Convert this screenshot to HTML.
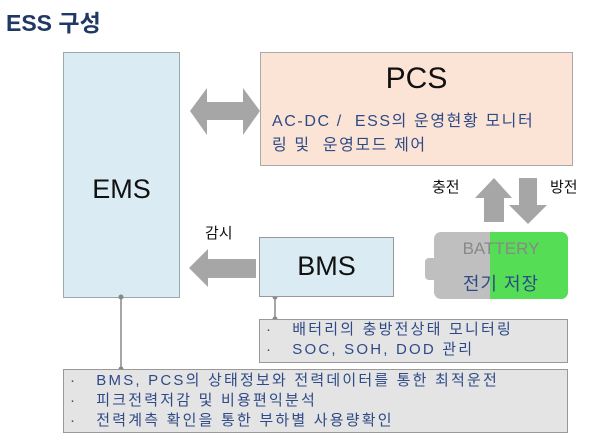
<!DOCTYPE html>
<html><head><meta charset="utf-8"><style>
body{margin:0;width:600px;height:436px;background:#fff;position:relative;overflow:hidden;font-family:"Liberation Sans","Noto Sans CJK KR",sans-serif}
.a{position:absolute;box-sizing:border-box}
.t{position:absolute;white-space:nowrap}
.note{color:#2e4a86;font-size:15px;line-height:20px;letter-spacing:2.2px}
</style></head><body>
<div class="t" style="left:6px;top:4px;font-size:23px;font-weight:bold;color:#1f3864">ESS 구성</div>
<div class="a" style="left:63px;top:52px;width:117px;height:246px;background:#daebf3;border:1px solid #9aa"></div>
<div class="t" style="left:63px;width:117px;text-align:center;top:174px;font-size:27px;color:#111">EMS</div>
<div class="a" style="left:260px;top:52px;width:313px;height:114px;background:#fbe4d5;border:1px solid #aaa"></div>
<div class="t" style="left:260px;width:313px;text-align:center;top:62px;font-size:30px;color:#111">PCS</div>
<div class="t" style="left:272px;top:110px;font-size:16px;color:#2e4a86;line-height:24px;letter-spacing:1.6px">AC-DC / &nbsp;ESS의 운영현황 모니터<br>링 및 &nbsp;운영모드 제어</div>
<svg class="a" style="left:0;top:0" width="600" height="436">
<polygon points="190,111 207,88 207,102 243,102 243,88 260,111 243,135 243,120 207,120 207,135" fill="#a6a6a6"/>
<polygon points="475,198 494,178 512,198 504,198 504,222 484,222 484,198" fill="#a6a6a6"/>
<polygon points="519,178 537,178 537,205 547,205 528,224 509,205 519,205" fill="#a6a6a6"/>
<polygon points="189,268 208,249 208,259 256,259 256,278 208,278 208,287" fill="#a6a6a6"/>
<line x1="121" y1="297" x2="121" y2="369" stroke="#888" stroke-width="1.5"/>
<circle cx="121" cy="297" r="2.5" fill="#888"/><circle cx="121" cy="369" r="2.5" fill="#888"/>
<line x1="275" y1="297" x2="275" y2="319" stroke="#888" stroke-width="1.5"/>
<circle cx="275" cy="297" r="2.5" fill="#888"/><circle cx="275" cy="319" r="2.5" fill="#888"/>
</svg>
<div class="t" style="left:432px;top:176px;font-size:15px;color:#111">충전</div>
<div class="t" style="left:550px;top:176px;font-size:15px;color:#111">방전</div>
<div class="t" style="left:205px;top:222px;font-size:15px;color:#111">감시</div>
<div class="a" style="left:259px;top:237px;width:135px;height:60px;background:#daebf3;border:1px solid #999"></div>
<div class="t" style="left:259px;width:135px;text-align:center;top:251px;font-size:27px;color:#111">BMS</div>
<div class="a" style="left:425px;top:258px;width:14px;height:22px;background:#bfbfbf;border-radius:4px"></div>
<div class="a" style="left:434px;top:232px;width:134px;height:67px;background:#bfbfbf;border-radius:7px;overflow:hidden"><div class="a" style="left:56px;top:0;width:78px;height:67px;background:#55dd55"></div></div>
<div class="t" style="left:434px;width:134px;text-align:center;top:239px;font-size:17px;color:#888">BATTERY</div>
<div class="t" style="left:434px;width:134px;text-align:center;top:270px;font-size:18px;color:#2e4a86;letter-spacing:1px">전기 저장</div>
<div class="a" style="left:259px;top:319px;width:309px;height:44px;background:#e4e4e4;border:1px solid #999"></div>
<div class="t note" style="left:266px;top:320px">·&nbsp;&nbsp;&nbsp;배터리의 충방전상태 모니터링<br>·&nbsp;&nbsp;&nbsp;SOC, SOH, DOD 관리</div>
<div class="a" style="left:63px;top:369px;width:505px;height:64px;background:#e4e4e4;border:1px solid #999"></div>
<div class="t note" style="left:70px;top:371px">·&nbsp;&nbsp;&nbsp;BMS, PCS의 상태정보와 전력데이터를 통한 최적운전<br>·&nbsp;&nbsp;&nbsp;피크전력저감 및 비용편익분석<br>·&nbsp;&nbsp;&nbsp;전력계측 확인을 통한 부하별 사용량확인</div>
</body></html>
